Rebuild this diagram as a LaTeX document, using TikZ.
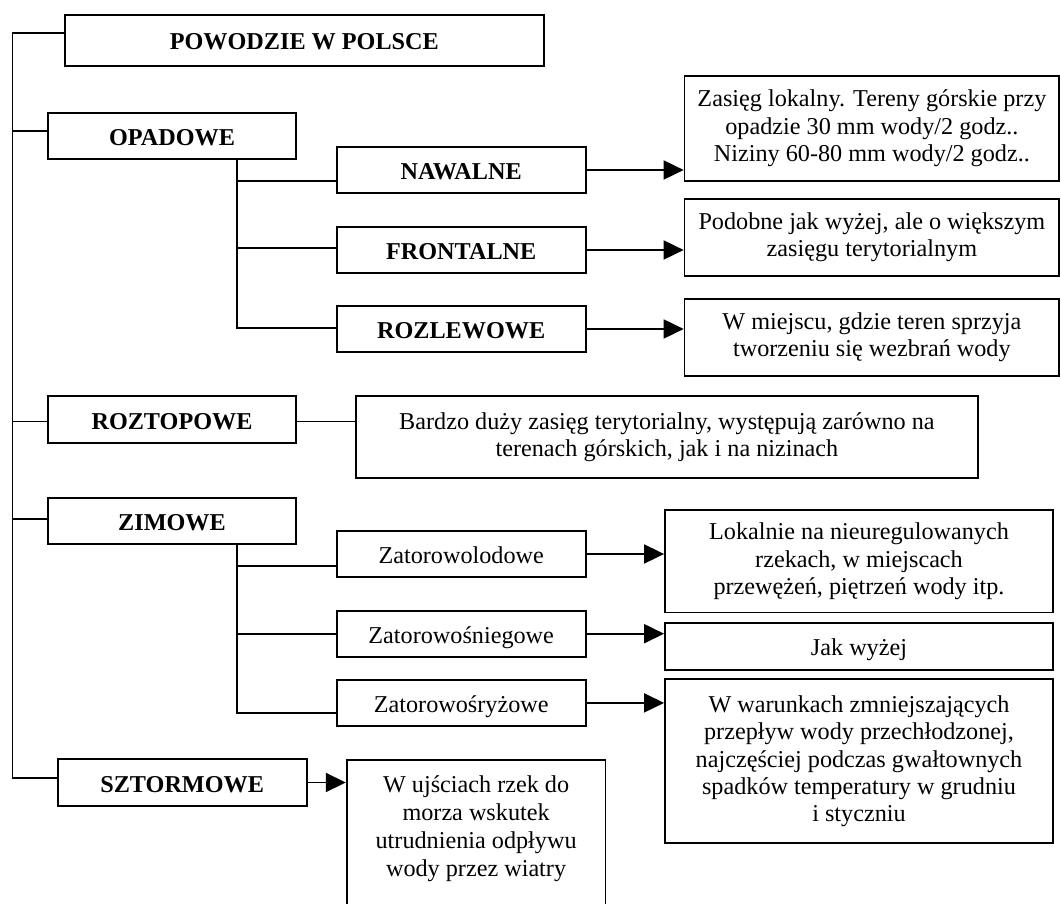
\documentclass[tikz,border=0pt]{standalone}
\usepackage{fontspec}
\setmainfont{Liberation Serif}
\usetikzlibrary{arrows.meta}
\begin{document}
\begin{tikzpicture}[x=1pt,y=-1pt,
  every node/.style={font=\fontsize{24.2pt}{27.4pt}\selectfont},
  box/.style={draw, line width=1.8pt, inner sep=0pt, align=center},
  oneline/.style={text height=19pt, text depth=0pt},
  head/.style={box, oneline, font=\fontsize{24.2pt}{27.4pt}\selectfont\bfseries},
  kind/.style={box, oneline},
  conn/.style={line width=1.8pt},
  arr/.style={conn, -{Triangle[length=20pt,width=19pt]}},
]
\useasboundingbox (0,0) rectangle (1061,904);
\fill[white] (0,0) rectangle (1061,904);
\clip (0,0) rectangle (1061,904);

% main categories
\node[head, minimum width=478.6pt, minimum height=51pt] (root) at (304.3,40.5) {POWODZIE W POLSCE};
\node[head, minimum width=248pt, minimum height=46.6pt] (opad) at (172,136) {OPADOWE};
\node[head, minimum width=248pt, minimum height=47pt] (rozt) at (172,419.5) {ROZTOPOWE};
\node[head, minimum width=248pt, minimum height=46pt] (zim) at (172,521.3) {ZIMOWE};
\node[head, minimum width=249pt, minimum height=47pt] (storm) at (182.2,782.5) {SZTORMOWE};

% rainfall floods
\node[head, minimum width=249pt, minimum height=46.6pt] (naw) at (461.2,170) {NAWALNE};
\node[head, minimum width=249pt, minimum height=46.6pt] (front) at (461.2,250) {FRONTALNE};
\node[head, minimum width=249pt, minimum height=46.6pt] (rozl) at (461.2,329) {ROZLEWOWE};

% winter floods
\node[kind, minimum width=249pt, minimum height=46.6pt] (zlod) at (461.2,554) {Zatorowolodowe};
\node[kind, minimum width=249pt, minimum height=46pt] (zsn) at (461.2,633.7) {Zatorowośniegowe};
\node[kind, minimum width=249pt, minimum height=45.7pt] (zsr) at (461.2,702.9) {Zatorowośryżowe};

% descriptions
\node[box, minimum width=374.7pt, minimum height=105.7pt] (d1) at (871.9,128.5)
  {Zasięg lokalny. Tereny górskie przy\\opadzie 30 mm wody/2 godz..\\Niziny 60-80 mm wody/2 godz..};
\node[box, minimum width=374.7pt, minimum height=77pt] (d2) at (871.9,237.5)
  {Podobne jak wyżej, ale o większym\\zasięgu terytorialnym};
\node[box, minimum width=374.7pt, minimum height=77pt] (d3) at (871.9,337.5)
  {W miejscu, gdzie teren sprzyja\\tworzeniu się wezbrań wody};
\node[box, minimum width=621.7pt, minimum height=82.3pt] (drozt) at (666.9,436.9)
  {Bardzo duży zasięg terytorialny, występują zarówno na\\terenach górskich, jak i na nizinach};
\node[box, minimum width=388pt, minimum height=102.5pt] (dlod) at (859,561.3)
  {Lokalnie na nieuregulowanych\\rzekach, w miejscach\\przewężeń, piętrzeń wody itp.};
\node[kind, minimum width=388pt, minimum height=47.3pt] (dsn) at (859,646.4) {Jak wyżej};
\node[box, minimum width=388pt, minimum height=164pt] (dsr) at (859,761.3)
  {W warunkach zmniejszających\\przepływ wody przechłodzonej,\\najczęściej podczas gwałtownych\\spadków temperatury w grudniu\\i styczniu};
\node[box, minimum width=258.8pt, minimum height=200pt, anchor=north] (wuj) at (476.1,759) {};
\node[align=center, font=\fontsize{24.2pt}{28pt}\selectfont] (wujtext) at (476.1,828.5)
  {W ujściach rzek do\\morza wskutek\\utrudnienia odpływu\\wody przez wiatry};

% main trunk
\coordinate (trunkTop) at (12.5,33);
\coordinate (trunkBot) at (12.5,777.7);
\draw[conn] (root.west |- trunkTop) -- (trunkTop) -- (trunkBot) -- (storm.west |- trunkBot);
\draw[conn] ([yshift=5pt]opad.west) -| (trunkTop);
\draw[conn] ([yshift=-2pt]rozt.west) -| (trunkTop);
\draw[conn] ([yshift=2pt]zim.west) -| (trunkTop);

% branches of the rainfall group
\coordinate (opadJ) at ([xshift=65pt]opad.south);
\draw[conn] (opadJ) |- ([yshift=-11pt]naw.west);
\draw[conn] (opadJ) |- ([yshift=2pt]front.west);
\draw[conn] (opadJ) |- ([yshift=0.7pt]rozl.west);

% branches of the winter group
\coordinate (zimJ) at ([xshift=65pt]zim.south);
\draw[conn] (zimJ) |- ([yshift=-11.7pt]zlod.west);
\draw[conn] (zimJ) |- (zsn.west);
\draw[conn] (zimJ) |- ([yshift=-10.4pt]zsr.west);

% links to descriptions
\draw[arr] (naw.east) -- (d1.west |- naw.east);
\draw[arr] (front.east) -- (d2.west |- front.east);
\draw[arr] (rozl.east) -- (d3.west |- rozl.east);
\coordinate (roztR) at ([yshift=-2pt]rozt.east);
\draw[conn] (roztR) -- (roztR -| drozt.west);
\draw[arr] (zlod.east) -- (dlod.west |- zlod.east);
\draw[arr] (zsn.east) -- (dsn.west |- zsn.east);
\draw[arr] (zsr.east) -- (dsr.west |- zsr.east);
\draw[arr] (storm.east) -- (wuj.west |- storm.east);
\end{tikzpicture}
\end{document}
